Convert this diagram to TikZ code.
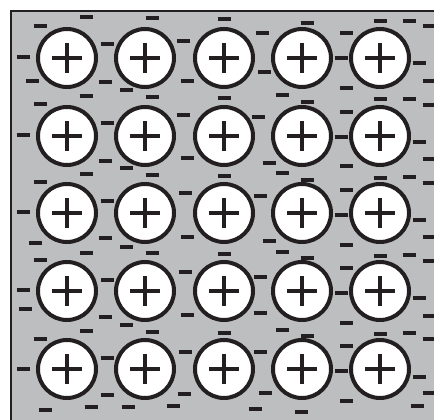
\documentclass[tikz,border=0pt]{standalone}
\usepackage{tikz}
\usetikzlibrary{positioning}
\definecolor{ltgray}{HTML}{BCBEC0}
\definecolor{ink}{HTML}{231F20}

\begin{document}
\begin{tikzpicture}[x=1pt, y=-1pt,
    ion/.style={circle, draw=ink, fill=white, line width=4pt,
                minimum size=58pt, inner sep=0pt},
    el/.style={ink, line width=3.8pt}]
    \useasboundingbox (0,0) rectangle (434,420);
    \clip (0,0) rectangle (434,420);
    \draw[ink, line width=2pt, fill=ltgray] (11,11) rectangle (450,440);
    % positive ions
    \foreach \r/\y in {1/58,2/136,3/213,4/291,5/369}
      \foreach \c/\x in {1/67,2/145,3/224,4/302,5/380} {
        \node[ion] (ion\r\c) at (\x,\y) {};
        \draw[ink, line width=3.6pt]
          ([xshift=-15pt]ion\r\c.center) -- ([xshift=15pt]ion\r\c.center)
          ([yshift=-15pt]ion\r\c.center) -- ([yshift=15pt]ion\r\c.center);
      }
    % free electrons
    \foreach \x/\y in {86/17, 40/26, 152/18, 224/19, 307/23, 380/21, 409/21, 429/26,
        262/33, 346/33, 107/44, 183/41, 23/57, 341/58, 419/63, 264/72,
        32/81, 105/82, 187/81, 429/81, 126/90, 346/88,
        86/96, 152/97, 224/98, 282/95, 307/102, 380/99, 409/99, 40/104, 429/105,
        183/115, 258/117, 346/112, 107/123, 23/135, 341/137, 419/142,
        429/159, 105/161, 187/158, 269/163, 346/166, 126/168,
        86/174, 152/175, 224/176, 282/173, 307/180, 380/178, 409/177, 429/183, 40/182,
        185/193, 260/196, 346/190, 107/201, 23/212, 341/215, 419/220,
        105/238, 187/237, 269/241, 346/245, 429/237, 35/243, 126/247,
        86/253, 152/253, 224/254, 282/252, 307/258, 380/256, 409/255, 429/261, 40/260,
        185/272, 260/277, 346/268, 107/280, 23/290, 341/293, 419/298,
        25/309, 105/317, 187/315, 260/313, 346/323, 429/316, 126/325,
        86/331, 152/332, 224/333, 282/330, 307/336, 380/334, 409/333, 429/339, 40/339,
        185/352, 260/352, 346/346, 107/358, 23/369, 341/371, 419/377,
        107/395, 184/394, 265/393, 346/401, 429/393,
        45/410, 91/407, 128/407, 173/406, 255/409, 301/412, 417/406}
      \draw[el] (\x,\y) ++(-6.5,0) -- ++(13,0);
\end{tikzpicture}
\end{document}
